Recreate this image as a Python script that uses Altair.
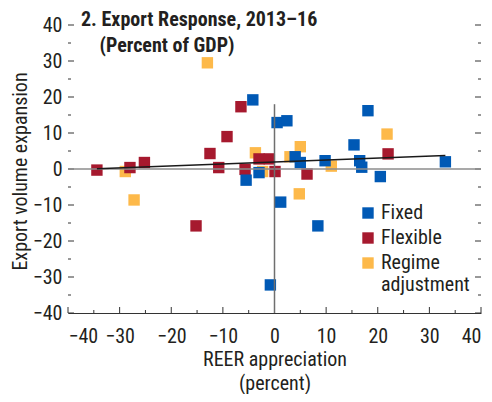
import altair as alt
import pandas as pd

# ---- data ----
categories = ["Fixed", "Flexible", "Regime adjustment"]
colors = ["#0059B5", "#A6192E", "#FDB94A"]

fixed_x = [-4.2, 0.5, 2.4, 18.1, 15.4, 4.0, 5.0, 9.8, 16.5, 16.9, 33.1, -5.5, -3.0, 20.5, 1.2, 8.4, -0.8]
fixed_y = [19.2, 12.9, 13.4, 16.2, 6.7, 3.4, 1.8, 2.3, 2.3, 0.5, 2.0, -3.1, -1.0, -2.1, -9.2, -15.8, -32.2]

flex_x = [-6.5, -9.2, -12.5, -3.0, -1.0, -34.4, -28.0, -25.2, -10.8, -5.7, 0.1, 6.3, 22.0, -15.2]
flex_y = [17.3, 9.0, 4.3, 2.8, 2.8, -0.3, 0.4, 1.8, 0.4, -0.1, -0.7, -1.4, 4.2, -15.8]

regime_x = [-13.0, -3.7, 5.0, 3.0, 21.8, 11.0, -2.3, -28.9, -27.2, 4.8]
regime_y = [29.5, 4.5, 6.2, 3.4, 9.7, 0.8, -0.7, -0.7, -8.6, -6.9]

x_major = [-40, -30, -20, -10, 0, 10, 20, 30, 40]
x_minor = [-35, -25, -15, -5, 5, 15, 25, 35]
y_major = [-40, -30, -20, -10, 0, 10, 20, 30, 40]
y_minor = [-35, -25, -15, -5, 5, 15, 25, 35]

zero_line = [0]
vline_x = [0]
vline_top = [18]
vline_bottom = [-40]

rows = []
for cat, xs, ys in [("Regime adjustment", regime_x, regime_y),
                    ("Flexible", flex_x, flex_y),
                    ("Fixed", fixed_x, fixed_y)]:
    for a, b in zip(xs, ys):
        rows.append({"x": a, "y": b, "regime": cat})
df = pd.DataFrame(rows)

W, H = 413, 288
FONT = "Roboto Condensed, DejaVu Sans Condensed, sans-serif"
TXT = "#231f20"
TICK = "#333333"

xs_ = alt.Scale(domain=[-40, 40], nice=False, zero=False)
ys_ = alt.Scale(domain=[-40, 40], nice=False, zero=False)

x_axis = alt.Axis(
    values=x_major, ticks=False, tickSize=0, grid=False,
    domain=True, domainColor=TICK, domainWidth=1,
    labelFont=FONT, labelFontSize=20, labelColor=TXT, labelPadding=13,
    title=["REER appreciation", "(percent)"], titleFont=FONT, titleFontSize=20,
    titleFontWeight="normal", titleColor=TXT, titleY=52, titleBaseline="alphabetic",
    titleLineHeight=24)
y_axis = alt.Axis(
    values=y_major, ticks=False, tickSize=0, grid=False, domain=False,
    labelFont=FONT, labelFontSize=20, labelColor=TXT, labelPadding=6,
    title="Export volume expansion", titleFont=FONT, titleFontSize=20,
    titleFontWeight="normal", titleColor=TXT, titleX=-42, titleY=146,
    titleAlign="center", titleBaseline="alphabetic")

points = alt.Chart(df).mark_square(size=130, opacity=1, filled=True).encode(
    x=alt.X("x:Q", scale=xs_, axis=x_axis),
    y=alt.Y("y:Q", scale=ys_, axis=y_axis),
    color=alt.Color("regime:N", scale=alt.Scale(domain=categories, range=colors),
                    legend=alt.Legend(
                        orient="none", legendX=290, legendY=178, title=None,
                        symbolType="square", symbolSize=130, symbolStrokeWidth=0,
                        symbolOpacity=1, gridAlign="none",
                        labelFont=FONT, labelFontSize=20, labelColor=TXT,
                        labelOffset=3, rowPadding=5, labelBaseline="middle",
                        labelExpr="datum.label == 'Regime adjustment' ? ['Regime', 'adjustment'] : datum.label")),
)

def xticks(vals, length):
    return alt.Chart(pd.DataFrame({"v": vals})).mark_rule(color=TICK, strokeWidth=1).encode(
        x=alt.X("v:Q", scale=xs_, axis=x_axis), y=alt.value(H), y2=alt.value(H - length))

def yticks(vals, length, right=False):
    x0 = W if right else 0
    x1 = W - length if right else length
    return alt.Chart(pd.DataFrame({"v": vals})).mark_rule(color=TICK, strokeWidth=1).encode(
        y=alt.Y("v:Q", scale=ys_, axis=y_axis), x=alt.value(x0), x2=alt.value(x1))

zero = alt.Chart(pd.DataFrame({"v": zero_line})).mark_rule(color="#8c8c8c", strokeWidth=1.5).encode(
    y=alt.Y("v:Q", scale=ys_, axis=y_axis))

vline = alt.Chart(pd.DataFrame({"x": vline_x, "y1": vline_top, "y2": vline_bottom})).mark_rule(
    color="#6f6f6f", strokeWidth=1.5).encode(
    x=alt.X("x:Q", scale=xs_, axis=x_axis), y=alt.Y("y1:Q", scale=ys_, axis=y_axis), y2="y2:Q")

trend = alt.Chart(df).transform_regression("x", "y").mark_line(color="#1a1a1a", strokeWidth=1.5).encode(
    x=alt.X("x:Q", scale=xs_, axis=x_axis), y=alt.Y("y:Q", scale=ys_, axis=y_axis))

chart = alt.layer(
    xticks(x_major, 6), xticks(x_minor, 3),
    yticks(y_major, 6), yticks(y_minor, 3),
    yticks(y_major, 6, True), yticks(y_minor, 3, True),
    points, zero, vline, trend,
).properties(
    width=W, height=H,
    autosize=alt.AutoSizeParams(type="none"),
    padding={"left": 60, "top": 17, "right": 3, "bottom": 81},
    title=alt.TitleParams(
        text="2. Export Response, 2013\u201316",
        subtitle="\u200b\u00a0\u00a0\u00a0\u00a0(Percent of GDP)",
        anchor="start", frame="group", orient="top",
        font=FONT, fontSize=20, fontWeight="bold", color=TXT,
        subtitleFont=FONT, subtitleFontSize=20, subtitleFontWeight="bold",
        subtitleColor=TXT, subtitlePadding=6, dx=13, offset=-41),
).configure_view(stroke=None)

chart.save("out.html", embed_options={"renderer": "svg", "actions": False})
